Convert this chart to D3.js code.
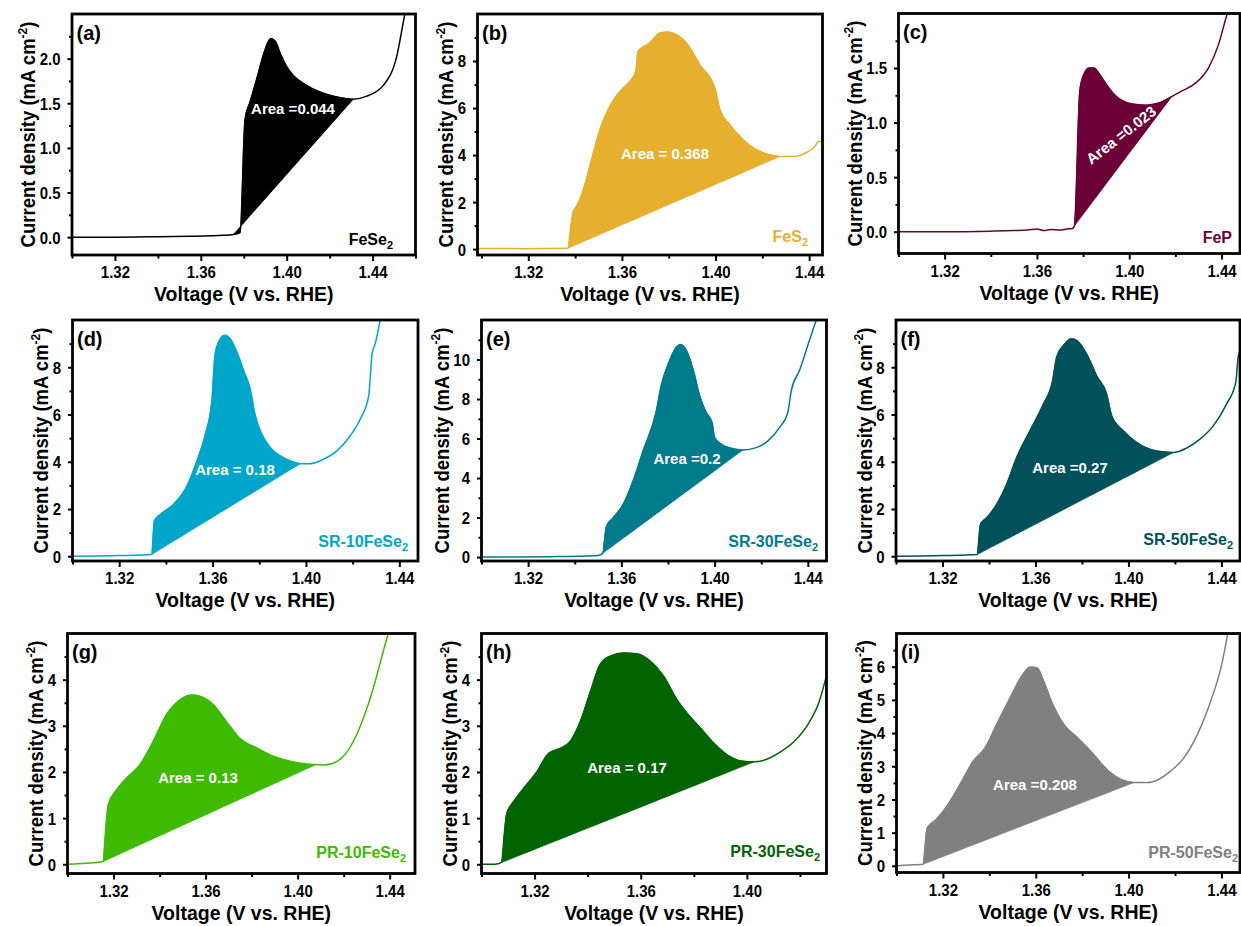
<!DOCTYPE html>
<html>
<head>
<meta charset="utf-8">
<script src="https://cdn.jsdelivr.net/npm/d3@7"></script>
<style>
  body { margin: 0; background: #fff; }
  text { font-family: "Liberation Sans", Arial, sans-serif; font-weight: bold; }
  .tick line { stroke-width: 2; }
</style>
</head>
<body>
<svg id="chart" width="1241" height="926"></svg>
<script>
// ---- data ----
const panelTags = ['(a)', '(b)', '(c)', '(d)', '(e)', '(f)', '(g)', '(h)', '(i)']
const sampleNames = ['FeSe2', 'FeS2', 'FeP', 'SR-10FeSe2', 'SR-30FeSe2', 'SR-50FeSe2', 'PR-10FeSe2', 'PR-30FeSe2', 'PR-50FeSe2']
const areaLabels = ['Area =0.044', 'Area = 0.368', 'Area =0.023', 'Area = 0.18', 'Area =0.2', 'Area =0.27', 'Area = 0.13', 'Area = 0.17', 'Area =0.208']

const voltFeSe2 = [1.300, 1.320, 1.340, 1.355, 1.365, 1.370, 1.3752, 1.3783, 1.3806, 1.383, 1.386, 1.389, 1.391, 1.3926, 1.3945, 1.397, 1.400, 1.4031, 1.4093, 1.414, 1.4217, 1.431, 1.437, 1.445, 1.4512, 1.455, 1.458]
const currFeSe2 = [0.00, 0.00, 0.005, 0.01, 0.015, 0.02, 0.03, 0.05, 1.32, 1.52, 1.77, 2.03, 2.17, 2.226, 2.2, 2.06, 1.91, 1.81, 1.70, 1.64, 1.58, 1.545, 1.577, 1.70, 2.02, 2.49, 2.8]

const voltFeS2 = [1.2983, 1.3183, 1.337, 1.3392, 1.3406, 1.3435, 1.347, 1.3506, 1.3541, 1.357, 1.3605, 1.3633, 1.3659, 1.3669, 1.3719, 1.3762, 1.3798, 1.3833, 1.3876, 1.3933, 1.3997, 1.4019, 1.4061, 1.4118, 1.4175, 1.4232, 1.4275, 1.4332, 1.4389, 1.4425, 1.4439, 1.4457]
const currFeS2 = [0.03, 0.02, 0.04, 1.6, 1.82, 2.52, 3.8, 5.08, 5.93, 6.43, 6.85, 7.13, 7.56, 8.41, 8.77, 9.19, 9.23, 9.12, 8.77, 7.84, 6.85, 5.93, 5.29, 4.65, 4.23, 4.01, 3.94, 3.94, 4.11, 4.37, 4.58, 4.58]

const voltFeP = [1.300, 1.320, 1.340, 1.350, 1.356, 1.360, 1.363, 1.366, 1.370, 1.373, 1.3754, 1.3762, 1.3786, 1.3805, 1.3826, 1.3848, 1.3869, 1.3898, 1.3934, 1.397, 1.4013, 1.407, 1.4128, 1.4185, 1.4228, 1.4286, 1.4343, 1.4386, 1.4422, 1.444]
const currFeP = [0.0, 0.0, 0.005, 0.01, 0.015, 0.025, 0.01, 0.02, 0.015, 0.025, 0.03, 0.05, 1.30, 1.45, 1.50, 1.50, 1.45, 1.36, 1.26, 1.20, 1.17, 1.16, 1.18, 1.24, 1.29, 1.36, 1.50, 1.71, 1.98, 2.1]

const voltSR10 = [1.300, 1.320, 1.334, 1.3351, 1.3376, 1.3433, 1.349, 1.3533, 1.3569, 1.3597, 1.3611, 1.3633, 1.365, 1.3676, 1.3704, 1.3733, 1.3761, 1.3783, 1.3811, 1.3847, 1.389, 1.3933, 1.3976, 1.4019, 1.4076, 1.4133, 1.419, 1.4233, 1.4269, 1.4276, 1.4283, 1.4297, 1.4319]
const currSR10 = [0.0, 0.03, 0.08, 1.52, 1.77, 2.2, 2.97, 4.04, 5.17, 6.59, 8.57, 9.2, 9.35, 9.2, 8.64, 7.86, 7.08, 5.95, 5.17, 4.6, 4.25, 4.04, 3.92, 3.92, 4.11, 4.46, 5.1, 5.81, 6.8, 7.65, 8.57, 9.0, 10.06]

const voltSR30 = [1.300, 1.330, 1.345, 1.350, 1.3521, 1.3536, 1.3564, 1.3607, 1.365, 1.3693, 1.375, 1.3771, 1.3807, 1.3836, 1.3853, 1.3879, 1.3907, 1.3936, 1.3964, 1.3989, 1.400, 1.4029, 1.4071, 1.4121, 1.4179, 1.4229, 1.4279, 1.4314, 1.4329, 1.4364, 1.4407, 1.4439, 1.446]
const currSR30 = [0.0, 0.02, 0.05, 0.08, 0.2, 1.56, 1.98, 2.66, 3.85, 5.37, 7.4, 8.68, 9.95, 10.63, 10.76, 10.46, 9.53, 8.17, 7.32, 6.81, 6.05, 5.71, 5.51, 5.42, 5.54, 5.88, 6.56, 7.32, 8.42, 9.44, 10.97, 12.07, 12.6]

const voltSR50 = [1.300, 1.320, 1.335, 1.3364, 1.339, 1.3433, 1.3476, 1.3519, 1.3576, 1.3634, 1.3674, 1.3691, 1.372, 1.3755, 1.3777, 1.382, 1.3863, 1.3906, 1.3928, 1.3978, 1.4035, 1.4092, 1.415, 1.4193, 1.425, 1.4308, 1.4365, 1.4422, 1.4462, 1.4472, 1.449]
const currSR50 = [0.0, 0.03, 0.08, 1.37, 1.63, 2.2, 3.05, 4.18, 5.31, 6.44, 7.44, 8.43, 8.92, 9.21, 9.14, 8.57, 7.65, 6.87, 5.95, 5.31, 4.82, 4.53, 4.42, 4.39, 4.58, 4.96, 5.52, 6.44, 7.37, 8.43, 8.9]

const voltPR10 = [1.300, 1.3083, 1.3155, 1.3177, 1.3213, 1.3257, 1.3314, 1.3372, 1.343, 1.3488, 1.3539, 1.3575, 1.3633, 1.3691, 1.3749, 1.3822, 1.3894, 1.3967, 1.4039, 1.408, 1.4112, 1.4155, 1.4199, 1.4242, 1.4286, 1.4329, 1.4372, 1.4394]
const currPR10 = [0.0, 0.02, 0.06, 1.29, 1.61, 1.87, 2.15, 2.66, 3.24, 3.56, 3.67, 3.64, 3.46, 3.09, 2.73, 2.52, 2.34, 2.23, 2.17, 2.16, 2.15, 2.19, 2.34, 2.66, 3.17, 3.82, 4.61, 5.01]

const voltPR30 = [1.300, 1.305, 1.3076, 1.3095, 1.312, 1.3158, 1.3208, 1.3252, 1.3296, 1.3334, 1.3372, 1.341, 1.3447, 1.3485, 1.3536, 1.3586, 1.3636, 1.3687, 1.3737, 1.3775, 1.3825, 1.3876, 1.3926, 1.3977, 1.4027, 1.4077, 1.4128, 1.4178, 1.4229, 1.4273, 1.4304]
const currPR30 = [0.0, 0.0, 0.04, 1.1, 1.35, 1.64, 2.0, 2.4, 2.51, 2.66, 3.09, 3.74, 4.33, 4.51, 4.58, 4.56, 4.4, 4.07, 3.56, 3.27, 2.95, 2.62, 2.37, 2.24, 2.22, 2.28, 2.44, 2.66, 3.02, 3.53, 4.18]

const voltPR50 = [1.300, 1.3072, 1.3115, 1.3133, 1.3173, 1.3223, 1.3274, 1.3331, 1.3382, 1.3432, 1.349, 1.354, 1.3576, 1.3605, 1.3634, 1.367, 1.372, 1.3778, 1.3836, 1.3879, 1.3922, 1.3965, 1.4023, 1.4081, 1.4131, 1.4182, 1.4239, 1.4297, 1.4354, 1.4398, 1.4427]
const currPR50 = [0.0, 0.03, 0.05, 1.15, 1.41, 1.86, 2.46, 3.16, 3.56, 4.27, 5.07, 5.72, 5.99, 5.97, 5.57, 4.92, 4.27, 3.87, 3.46, 3.11, 2.81, 2.61, 2.51, 2.51, 2.61, 2.86, 3.26, 3.97, 4.97, 5.97, 6.98]

// straight baseline under each peak: start / end voltage (points on the curve)
const baseStart = [1.3752, 1.337, 1.3754, 1.334, 1.3521, 1.335, 1.3155, 1.3076, 1.3115]
const baseEnd = [1.431, 1.4275, 1.4185, 1.3976, 1.4121, 1.4193, 1.408, 1.4027, 1.4023]

const series = [
  [voltFeSe2, currFeSe2], [voltFeS2, currFeS2], [voltFeP, currFeP],
  [voltSR10, currSR10], [voltSR30, currSR30], [voltSR50, currSR50],
  [voltPR10, currPR10], [voltPR30, currPR30], [voltPR50, currPR50]
]

// axes
const xDomains = [[1.30, 1.46], [1.2983, 1.4457], [1.30, 1.448], [1.30, 1.448], [1.30, 1.448], [1.30, 1.448], [1.30, 1.451], [1.30, 1.43], [1.30, 1.448]]
const yDomains = [[-0.2, 2.5], [-0.25, 10], [-0.2, 2.0], [-0.2, 10], [-0.2, 12], [-0.2, 10], [-0.2, 5], [-0.2, 5], [-0.2, 7]]
const yMajorStep = [0.5, 2, 0.5, 2, 2, 2, 1, 1, 1]
const xMajorTicks = [1.32, 1.36, 1.40, 1.44]
const xMinorTicks = [1.30, 1.34, 1.38, 1.42, 1.46]

// ---- layout / style ----
const colors = ['#000000', '#E6AF2E', '#6B0039', '#00A6C9', '#007B8B', '#00515A', '#3EBB00', '#006400', '#808080']
const frames = [
  [72, 14, 415.5, 255], [477.5, 14, 822.5, 255], [898.5, 13.5, 1240, 253.5],
  [72.5, 320, 418, 561], [481.5, 320, 826.5, 561], [896, 320, 1240, 561],
  [67.5, 633.5, 415, 873.5], [481.5, 633.5, 826.5, 873.5], [896.5, 633.5, 1240, 872.5]
]
const areaPos = [[293, 109, 0], [665, 154, 0], [1121, 135, -38], [235, 470, 0], [687, 459, 0], [1070, 468, 0], [198, 778, 0], [627, 768, 0], [1035, 785, 0]]
const samplePos = [[393, 245], [808, 242], [1232, 243], [408, 547], [818, 547], [1233, 545], [406, 858], [820, 857], [1238, 858]]
const tickStretch = 1.1   // the original lettering is a little taller than Arial
const titleStretch = 1.08

const svg = d3.select('#chart')

series.forEach(([volt, curr], i) => {
  const [l, t, r, b] = frames[i]
  const color = colors[i]
  const x = d3.scaleLinear().domain(xDomains[i]).range([l, r])
  const y = d3.scaleLinear().domain(yDomains[i]).range([b, t])
  const pts = volt.map((v, k) => ({ v, j: curr[k] }))
  const g = svg.append('g')

  g.append('clipPath').attr('id', 'clip' + i)
    .append('rect').attr('x', l).attr('y', t).attr('width', r - l).attr('height', b - t)

  const plot = g.append('g').attr('clip-path', `url(#clip${i})`)

  // filled area between curve and straight baseline
  const v0 = baseStart[i], v1 = baseEnd[i]
  const p0 = pts.find(d => Math.abs(d.v - v0) < 1e-6)
  const p1 = pts.find(d => Math.abs(d.v - v1) < 1e-6)
  const base = v => p0.j + (v - p0.v) / (p1.v - p0.v) * (p1.j - p0.j)
  const seg = pts.filter(d => d.v >= v0 - 1e-6 && d.v <= v1 + 1e-6)

  const area = d3.area()
    .x(d => x(d.v))
    .y0(d => y(base(d.v)))
    .y1(d => y(d.j))
    .curve(d3.curveMonotoneX)

  plot.append('path').datum(seg)
    .attr('d', area)
    .attr('fill', color)
    .attr('stroke', color)
    .attr('stroke-width', 0.8)

  const line = d3.line().x(d => x(d.v)).y(d => y(d.j)).curve(d3.curveMonotoneX)
  plot.append('path').datum(pts)
    .attr('d', line)
    .attr('fill', 'none')
    .attr('stroke', color)
    .attr('stroke-width', 1.5)

  // axes
  const xd = xDomains[i]
  const inX = v => v >= xd[0] - 1e-9 && v <= xd[1] + 1e-9
  g.append('g').attr('transform', `translate(0,${b})`)
    .call(d3.axisBottom(x).tickValues(xMajorTicks.filter(inX)).tickSize(6).tickFormat(d3.format('.2f')))
    .call(a => a.select('.domain').remove())
    .call(a => a.selectAll('text')
      .style('font-size', '15px').attr('fill', '#000')
      .attr('y', 0).attr('dy', null)
      .attr('transform', `translate(0,23) scale(1,${tickStretch})`))
  g.append('g').attr('transform', `translate(0,${b})`)
    .call(d3.axisBottom(x).tickValues(xMinorTicks.filter(inX)).tickSize(3.5).tickFormat(''))
    .call(a => a.select('.domain').remove())

  const yd = yDomains[i], st = yMajorStep[i]
  const yMajor = d3.range(0, yd[1] - st / 4, st).map(v => +v.toFixed(3))
  const yMinor = d3.range(st / 2, yd[1] + 1e-9, st).map(v => +v.toFixed(3))
  const yFmt = st < 1 ? d3.format('.1f') : d3.format('d')
  const yAx = g.append('g').attr('transform', `translate(${l},0)`)
    .call(d3.axisLeft(y).tickValues(yMajor).tickSize(4.5).tickFormat(yFmt))
    .call(a => a.select('.domain').remove())
    .call(a => a.selectAll('text')
      .style('font-size', '15px').attr('fill', '#000')
      .attr('x', 0).attr('dy', null)
      .attr('transform', `translate(-11.5,${0.358 * 15 * tickStretch}) scale(1,${tickStretch})`))
  g.append('g').attr('transform', `translate(${l},0)`)
    .call(d3.axisLeft(y).tickValues(yMinor).tickSize(3).tickFormat(''))
    .call(a => a.select('.domain').remove())

  // frame
  g.append('rect')
    .attr('x', l).attr('y', t).attr('width', r - l).attr('height', b - t)
    .attr('fill', 'none').attr('stroke', '#000').attr('stroke-width', 2.8)

  // axis titles
  g.append('text')
    .attr('transform', `translate(${(l + r) / 2},${b + 46}) scale(1,${titleStretch})`)
    .attr('text-anchor', 'middle')
    .style('font-size', '19.5px')
    .text('Voltage (V vs. RHE)')

  let maxW = 0
  yAx.selectAll('text').each(function () { maxW = Math.max(maxW, this.getComputedTextLength()) })
  const tx = l - 11.5 - maxW - 4.5
  const yt = g.append('text')
    .attr('transform', `translate(${tx},${(t + b) / 2}) rotate(-90) scale(1,${titleStretch})`)
    .attr('text-anchor', 'middle')
    .style('font-size', '18.5px')
  yt.append('tspan').text('Current density (mA cm')
  yt.append('tspan').attr('dy', -8).style('font-size', '12px').text('-2')
  yt.append('tspan').attr('dy', 8).text(')')

  // panel tag
  g.append('text')
    .attr('transform', `translate(${l + 4.5},${t + 25.5}) scale(1,1.05)`)
    .style('font-size', '20px')
    .text(panelTags[i])

  // sample name with subscript
  const [sx, sy] = samplePos[i]
  const name = sampleNames[i]
  const hasSub = name.endsWith('2')
  const st2 = g.append('text')
    .attr('x', sx).attr('y', sy)
    .attr('text-anchor', 'end')
    .attr('fill', color)
    .style('font-size', '16px')
  st2.append('tspan').text(hasSub ? name.slice(0, -1) : name)
  if (hasSub) st2.append('tspan').attr('dy', 4).style('font-size', '11px').text('2')

  // area annotation
  const [ax, ay, rot] = areaPos[i]
  g.append('text')
    .attr('transform', `translate(${ax},${ay}) rotate(${rot})`)
    .attr('text-anchor', 'middle')
    .attr('dy', '0.36em')
    .attr('fill', '#fff')
    .style('font-size', '15px')
    .text(areaLabels[i])
})
</script>
</body>
</html>
